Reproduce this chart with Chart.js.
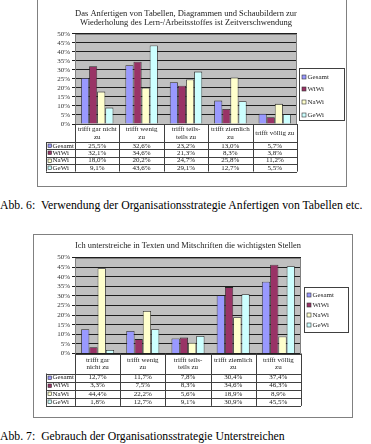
<!DOCTYPE html>
<html>
<head>
<meta charset="utf-8">
<script src="https://cdn.jsdelivr.net/npm/chart.js@4"></script>
<style>
  html, body { margin: 0; padding: 0; background: #fff; }
  body { position: relative; width: 371px; height: 444px; overflow: hidden; }
  .box { position: absolute; }
  .caption { position: absolute; left: 0; font-family: "Liberation Serif", serif; font-size: 11.75px; line-height: 14px; color: #000; white-space: pre; }
</style>
</head>
<body>
<div class="box" style="left:37px; top:-1px;"><canvas id="chart1" width="310" height="188"></canvas></div>
<div class="caption" style="top:199px;">Abb. 6:  Verwendung der Organisationsstrategie Anfertigen von Tabellen etc.</div>
<div class="box" style="left:33px; top:234px;"><canvas id="chart2" width="320" height="184"></canvas></div>
<div class="caption" style="top:430px;">Abb. 7:  Gebrauch der Organisationsstrategie Unterstreichen</div>

<script>
'use strict';

// Daten
const seriesNames = ['Gesamt', 'WiWi', 'NaWi', 'GeWi'];
const seriesColors = ['#9999ff', '#993366', '#ffffcc', '#ccffff'];
const yTicks = [0, 5, 10, 15, 20, 25, 30, 35, 40, 45, 50];

const title1 = ['Das Anfertigen von Tabellen, Diagrammen und Schaubildern zur', 'Wiederholung des Lern-/Arbeitsstoffes ist Zeitverschwendung'];
const categories1 = [['trifft gar nicht', 'zu'], ['trifft wenig', 'zu'], ['trifft teils-', 'teils zu'], ['trifft ziemlich', 'zu'], ['trifft völlig zu']];
const gesamt1 = [25.5, 32.6, 23.2, 13.0, 5.7];
const wiwi1 = [32.1, 34.6, 21.3, 8.3, 3.8];
const nawi1 = [18.0, 20.2, 24.7, 25.8, 11.2];
const gewi1 = [9.1, 43.6, 29.1, 12.7, 5.5];

const title2 = 'Ich unterstreiche in Texten und Mitschriften die wichtigsten Stellen';
const categories2 = [['trifft gar', 'nicht zu'], ['trifft wenig', 'zu'], ['trifft teils-', 'teils zu'], ['trifft ziemlich', 'zu'], ['trifft völlig', 'zu']];
const gesamt2 = [12.7, 11.7, 7.8, 30.4, 37.4];
const wiwi2 = [3.3, 7.5, 8.3, 34.6, 46.3];
const nawi2 = [44.4, 22.2, 5.6, 18.9, 8.9];
const gewi2 = [1.8, 12.7, 9.1, 30.9, 45.5];

const SERIF = '"Liberation Serif", "Times New Roman", serif';

function fmtPct(v) {
  return v.toFixed(1).replace('.', ',') + '%';
}

function hline(ctx, x1, x2, y) {
  const yy = Math.round(y) + 0.5;
  ctx.beginPath(); ctx.moveTo(x1, yy); ctx.lineTo(x2, yy); ctx.stroke();
}
function vline(ctx, x, y1, y2) {
  const xx = Math.round(x) + 0.5;
  ctx.beginPath(); ctx.moveTo(xx, y1); ctx.lineTo(xx, y2); ctx.stroke();
}

// Excel-Look: Rahmen, grauer Plotbereich, Datentabelle, Legende
const excelPlugin = {
  id: 'excel',
  beforeDraw(chart) {
    const { ctx, chartArea: a } = chart;
    ctx.save();
    ctx.fillStyle = '#fff';
    ctx.fillRect(0, 0, chart.width, chart.height);
    ctx.strokeStyle = '#808080';
    ctx.lineWidth = 1;
    ctx.strokeRect(0.5, 0.5, chart.width - 1, chart.height - 1);
    ctx.fillStyle = '#c0c0c0';
    ctx.fillRect(a.left, a.top, a.width, a.height);
    ctx.restore();
  },
  afterDraw(chart, args, opts) {
    const { ctx, chartArea: a } = chart;
    const x = chart.scales.x;
    const labels = chart.data.labels;
    const sets = chart.data.datasets;
    const colW = a.width / labels.length;
    const top = a.bottom;
    const hb = top + opts.headH;
    const bottom = hb + sets.length * opts.rowH;

    ctx.save();
    ctx.strokeStyle = '#808080';
    ctx.strokeRect(Math.round(a.left) + 0.5, Math.round(a.top) + 0.5, Math.round(a.width) - 1, Math.round(a.height));

    // Tabelle
    ctx.strokeStyle = '#404040';
    ctx.lineWidth = 1;
    hline(ctx, a.left, a.right, top);
    for (let r = 0; r <= sets.length; r++) hline(ctx, opts.labelLeft, a.right, hb + r * opts.rowH);
    for (let i = 0; i <= labels.length; i++) vline(ctx, a.left + i * colW, top, bottom);
    vline(ctx, opts.labelLeft, hb, bottom);

    ctx.fillStyle = '#222';
    ctx.font = '7px ' + SERIF;
    ctx.textAlign = 'center';
    ctx.textBaseline = 'middle';
    labels.forEach((lab, i) => {
      const cx = x.getPixelForValue(i);
      const lines = Array.isArray(lab) ? lab : [lab];
      const mid = top + opts.headH / 2;
      lines.forEach((t, k) => {
        ctx.fillText(t, cx, mid + (k - (lines.length - 1) / 2) * 7.5);
      });
    });
    sets.forEach((ds, r) => {
      const cy = hb + (r + 0.5) * opts.rowH;
      ctx.textAlign = 'center';
      ctx.fillStyle = '#222';
      ds.data.forEach((v, i) => ctx.fillText(fmtPct(v), x.getPixelForValue(i), cy));
      ctx.fillStyle = ds.backgroundColor;
      ctx.fillRect(opts.labelLeft + 2, Math.round(cy) - 2, 3.5, 3.5);
      ctx.strokeStyle = '#333';
      ctx.lineWidth = 0.6;
      ctx.strokeRect(opts.labelLeft + 2, Math.round(cy) - 2, 3.5, 3.5);
      ctx.fillStyle = '#222';
      ctx.textAlign = 'left';
      ctx.fillText(ds.label, opts.labelLeft + 6.5, cy);
    });

    // Legende
    const lg = opts.legend;
    ctx.strokeStyle = '#404040';
    ctx.lineWidth = 1;
    ctx.strokeRect(lg.x + 0.5, lg.y + 0.5, lg.w, lg.h);
    sets.forEach((ds, r) => {
      const cy = lg.y0 + r * lg.step;
      ctx.fillStyle = ds.backgroundColor;
      ctx.fillRect(lg.x + 3, Math.round(cy) - 2, 4, 4);
      ctx.strokeStyle = '#333';
      ctx.lineWidth = 0.6;
      ctx.strokeRect(lg.x + 3, Math.round(cy) - 2, 4, 4);
      ctx.fillStyle = '#222';
      ctx.textAlign = 'left';
      ctx.fillText(ds.label, lg.x + 8.5, cy);
    });
    ctx.restore();
  },
};

function makeChart(id, labels, series, title, L) {
  const canvas = document.getElementById(id);
  return new Chart(canvas, {
    type: 'bar',
    data: {
      labels,
      datasets: series.map((data, k) => ({
        label: seriesNames[k],
        data,
        backgroundColor: seriesColors[k],
        borderColor: '#262626',
        borderWidth: 0.8,
        categoryPercentage: 0.73,
        barPercentage: 1.0,
      })),
    },
    plugins: [excelPlugin],
    options: {
      responsive: false,
      devicePixelRatio: 1,
      animation: false,
      layout: { padding: { top: 0, left: 0, right: L.padR, bottom: L.padB } },
      plugins: {
        legend: { display: false },
        tooltip: { enabled: false },
        title: {
          display: true,
          text: title,
          fullSize: false,
          color: '#222',
          font: { family: SERIF, size: 8.5, weight: 'normal', lineHeight: 1.15 },
          padding: { top: L.titleTop, bottom: L.titleBottom },
        },
        excel: L.table,
      },
      scales: {
        x: { display: false },
        y: {
          min: 0,
          max: 50,
          afterFit: (s) => { s.width = L.axisW; },
          afterBuildTicks: (s) => { s.ticks = yTicks.map(v => ({ value: v })); },
          ticks: {
            autoSkip: false,
            callback: (v) => v + '%',
            color: '#333',
            padding: 2,
            font: { family: SERIF, size: 7 },
          },
          grid: { color: '#1e1e1e', lineWidth: 1, tickLength: 3, drawTicks: true },
          border: { color: '#1e1e1e' },
        },
      },
    },
  });
}

makeChart('chart1', categories1, [gesamt1, wiwi1, nawi1, gewi1], title1, {
  padR: 50, padB: 63, axisW: 38, titleTop: 9.4, titleBottom: 6,
  table: { headH: 18, rowH: 7.4, labelLeft: 9, legend: { x: 262, y: 69, w: 45, h: 52, y0: 77.7, step: 12.7 } },
});

makeChart('chart2', categories2, [gesamt2, wiwi2, nawi2, gewi2], title2, {
  padR: 52, padB: 64.5, axisW: 42, titleTop: 6.8, titleBottom: 7,
  table: { headH: 20, rowH: 8.1, labelLeft: 13, legend: { x: 271, y: 53, w: 44, h: 45, y0: 61, step: 10 } },
});
</script>
</body>
</html>
